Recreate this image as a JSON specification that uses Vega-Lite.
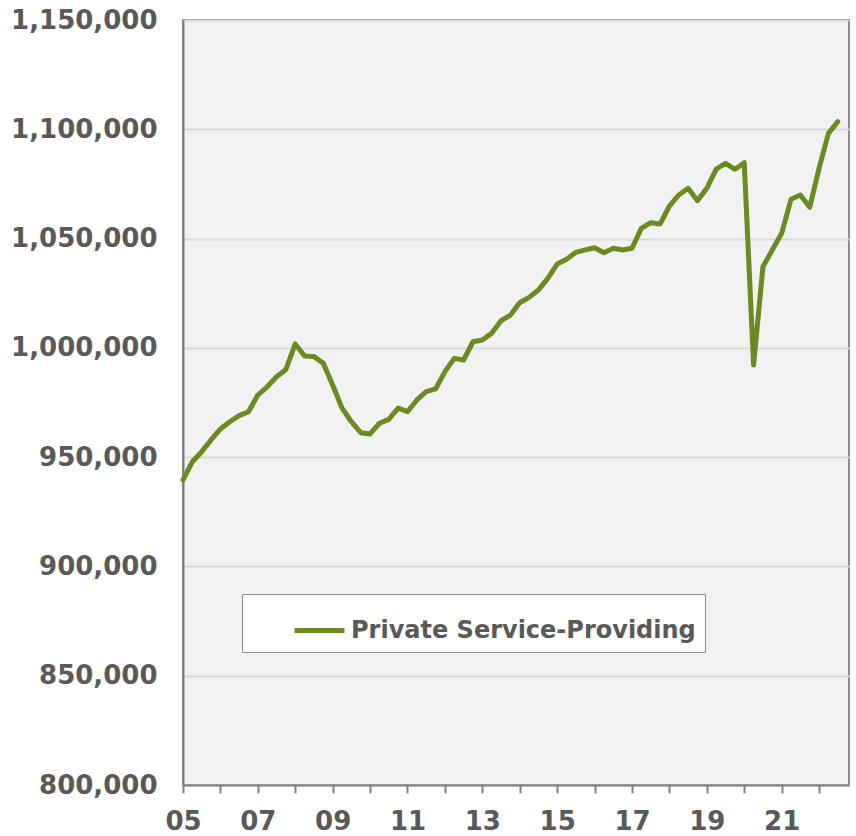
{
  "$schema": "https://vega.github.io/schema/vega-lite/v6.json",
  "width": 666,
  "height": 765,
  "autosize": "none",
  "padding": {"left": 183, "top": 20, "right": 7, "bottom": 51},
  "background": "white",
  "config": {
    "view": {"fill": "#f2f2f2", "stroke": "#8c8c8c", "strokeWidth": 2},
    "font": "DejaVu Sans"
  },
  "data": {
    "values": [
      {"t": 2005.00, "v": 939600, "s": "Private Service-Providing"},
      {"t": 2005.25, "v": 947900, "s": "Private Service-Providing"},
      {"t": 2005.50, "v": 952500, "s": "Private Service-Providing"},
      {"t": 2005.75, "v": 957850, "s": "Private Service-Providing"},
      {"t": 2006.00, "v": 962900, "s": "Private Service-Providing"},
      {"t": 2006.25, "v": 966200, "s": "Private Service-Providing"},
      {"t": 2006.50, "v": 969000, "s": "Private Service-Providing"},
      {"t": 2006.75, "v": 970800, "s": "Private Service-Providing"},
      {"t": 2007.00, "v": 978400, "s": "Private Service-Providing"},
      {"t": 2007.25, "v": 982200, "s": "Private Service-Providing"},
      {"t": 2007.50, "v": 986800, "s": "Private Service-Providing"},
      {"t": 2007.75, "v": 990100, "s": "Private Service-Providing"},
      {"t": 2008.00, "v": 1001800, "s": "Private Service-Providing"},
      {"t": 2008.25, "v": 996300, "s": "Private Service-Providing"},
      {"t": 2008.50, "v": 996000, "s": "Private Service-Providing"},
      {"t": 2008.75, "v": 993000, "s": "Private Service-Providing"},
      {"t": 2009.00, "v": 983000, "s": "Private Service-Providing"},
      {"t": 2009.25, "v": 972400, "s": "Private Service-Providing"},
      {"t": 2009.50, "v": 966200, "s": "Private Service-Providing"},
      {"t": 2009.75, "v": 961200, "s": "Private Service-Providing"},
      {"t": 2010.00, "v": 960600, "s": "Private Service-Providing"},
      {"t": 2010.25, "v": 965500, "s": "Private Service-Providing"},
      {"t": 2010.50, "v": 967300, "s": "Private Service-Providing"},
      {"t": 2010.75, "v": 972400, "s": "Private Service-Providing"},
      {"t": 2011.00, "v": 970800, "s": "Private Service-Providing"},
      {"t": 2011.25, "v": 976150, "s": "Private Service-Providing"},
      {"t": 2011.50, "v": 979950, "s": "Private Service-Providing"},
      {"t": 2011.75, "v": 981200, "s": "Private Service-Providing"},
      {"t": 2012.00, "v": 989100, "s": "Private Service-Providing"},
      {"t": 2012.25, "v": 995200, "s": "Private Service-Providing"},
      {"t": 2012.50, "v": 994450, "s": "Private Service-Providing"},
      {"t": 2012.75, "v": 1002800, "s": "Private Service-Providing"},
      {"t": 2013.00, "v": 1003600, "s": "Private Service-Providing"},
      {"t": 2013.25, "v": 1006650, "s": "Private Service-Providing"},
      {"t": 2013.50, "v": 1012400, "s": "Private Service-Providing"},
      {"t": 2013.75, "v": 1015000, "s": "Private Service-Providing"},
      {"t": 2014.00, "v": 1020650, "s": "Private Service-Providing"},
      {"t": 2014.25, "v": 1023100, "s": "Private Service-Providing"},
      {"t": 2014.50, "v": 1026500, "s": "Private Service-Providing"},
      {"t": 2014.75, "v": 1031800, "s": "Private Service-Providing"},
      {"t": 2015.00, "v": 1038350, "s": "Private Service-Providing"},
      {"t": 2015.25, "v": 1040500, "s": "Private Service-Providing"},
      {"t": 2015.50, "v": 1043700, "s": "Private Service-Providing"},
      {"t": 2015.75, "v": 1044800, "s": "Private Service-Providing"},
      {"t": 2016.00, "v": 1045800, "s": "Private Service-Providing"},
      {"t": 2016.25, "v": 1043550, "s": "Private Service-Providing"},
      {"t": 2016.50, "v": 1045550, "s": "Private Service-Providing"},
      {"t": 2016.75, "v": 1044800, "s": "Private Service-Providing"},
      {"t": 2017.00, "v": 1045550, "s": "Private Service-Providing"},
      {"t": 2017.25, "v": 1054700, "s": "Private Service-Providing"},
      {"t": 2017.50, "v": 1057250, "s": "Private Service-Providing"},
      {"t": 2017.75, "v": 1056650, "s": "Private Service-Providing"},
      {"t": 2018.00, "v": 1064900, "s": "Private Service-Providing"},
      {"t": 2018.25, "v": 1069950, "s": "Private Service-Providing"},
      {"t": 2018.50, "v": 1073000, "s": "Private Service-Providing"},
      {"t": 2018.75, "v": 1067350, "s": "Private Service-Providing"},
      {"t": 2019.00, "v": 1073000, "s": "Private Service-Providing"},
      {"t": 2019.25, "v": 1081800, "s": "Private Service-Providing"},
      {"t": 2019.50, "v": 1084450, "s": "Private Service-Providing"},
      {"t": 2019.75, "v": 1081700, "s": "Private Service-Providing"},
      {"t": 2020.00, "v": 1084700, "s": "Private Service-Providing"},
      {"t": 2020.25, "v": 992150, "s": "Private Service-Providing"},
      {"t": 2020.50, "v": 1037150, "s": "Private Service-Providing"},
      {"t": 2020.75, "v": 1044800, "s": "Private Service-Providing"},
      {"t": 2021.00, "v": 1052400, "s": "Private Service-Providing"},
      {"t": 2021.25, "v": 1067950, "s": "Private Service-Providing"},
      {"t": 2021.50, "v": 1069950, "s": "Private Service-Providing"},
      {"t": 2021.75, "v": 1064300, "s": "Private Service-Providing"},
      {"t": 2022.00, "v": 1082150, "s": "Private Service-Providing"},
      {"t": 2022.25, "v": 1098150, "s": "Private Service-Providing"},
      {"t": 2022.50, "v": 1103500, "s": "Private Service-Providing"}
    ]
  },
  "mark": {"type": "line", "strokeWidth": 5, "strokeJoin": "round", "strokeCap": "round"},
  "encoding": {
    "x": {
      "field": "t",
      "type": "quantitative",
      "scale": {"domain": [2005, 2022.8], "nice": false, "zero": false},
      "axis": {
        "title": null,
        "values": [2005, 2006, 2007, 2008, 2009, 2010, 2011, 2012, 2013, 2014, 2015, 2016, 2017, 2018, 2019, 2020, 2021, 2022],
        "labelExpr": "datum.value % 2 == 1 ? slice(toString(datum.value), 2) : ''",
        "grid": false,
        "domainColor": "#808080",
        "domainWidth": 2,
        "tickColor": "#808080",
        "tickWidth": 2,
        "tickSize": 8,
        "labelFont": "DejaVu Sans",
        "labelFontSize": 26,
        "labelFontWeight": "bold",
        "labelColor": "#595959",
        "labelPadding": 15,
        "labelOverlap": false,
        "labelFlush": false
      }
    },
    "y": {
      "field": "v",
      "type": "quantitative",
      "scale": {"domain": [800000, 1150000], "nice": false, "zero": false},
      "axis": {
        "title": null,
        "values": [800000, 850000, 900000, 950000, 1000000, 1050000, 1100000, 1150000],
        "format": ",d",
        "grid": true,
        "gridColor": "#d9d9d9",
        "gridWidth": 2,
        "ticks": false,
        "domainColor": "#808080",
        "domainWidth": 2,
        "labelFont": "DejaVu Sans",
        "labelFontSize": 26,
        "labelFontWeight": "bold",
        "labelColor": "#595959",
        "labelPadding": 26,
        "labelOverlap": false
      }
    },
    "color": {
      "field": "s",
      "type": "nominal",
      "scale": {"range": ["#6a8b22"]},
      "legend": {
        "title": null,
        "orient": "none",
        "legendX": 59,
        "legendY": 574,
        "fillColor": "white",
        "strokeColor": "#8c8c8c",
        "padding": 9,
        "symbolType": "stroke",
        "symbolSize": 2500,
        "symbolStrokeWidth": 5,
        "symbolOffset": 41,
        "labelFont": "DejaVu Sans",
        "labelFontSize": 24,
        "labelFontWeight": "bold",
        "labelColor": "#595959",
        "labelOffset": 4,
        "labelLimit": 600
      }
    }
  }
}
